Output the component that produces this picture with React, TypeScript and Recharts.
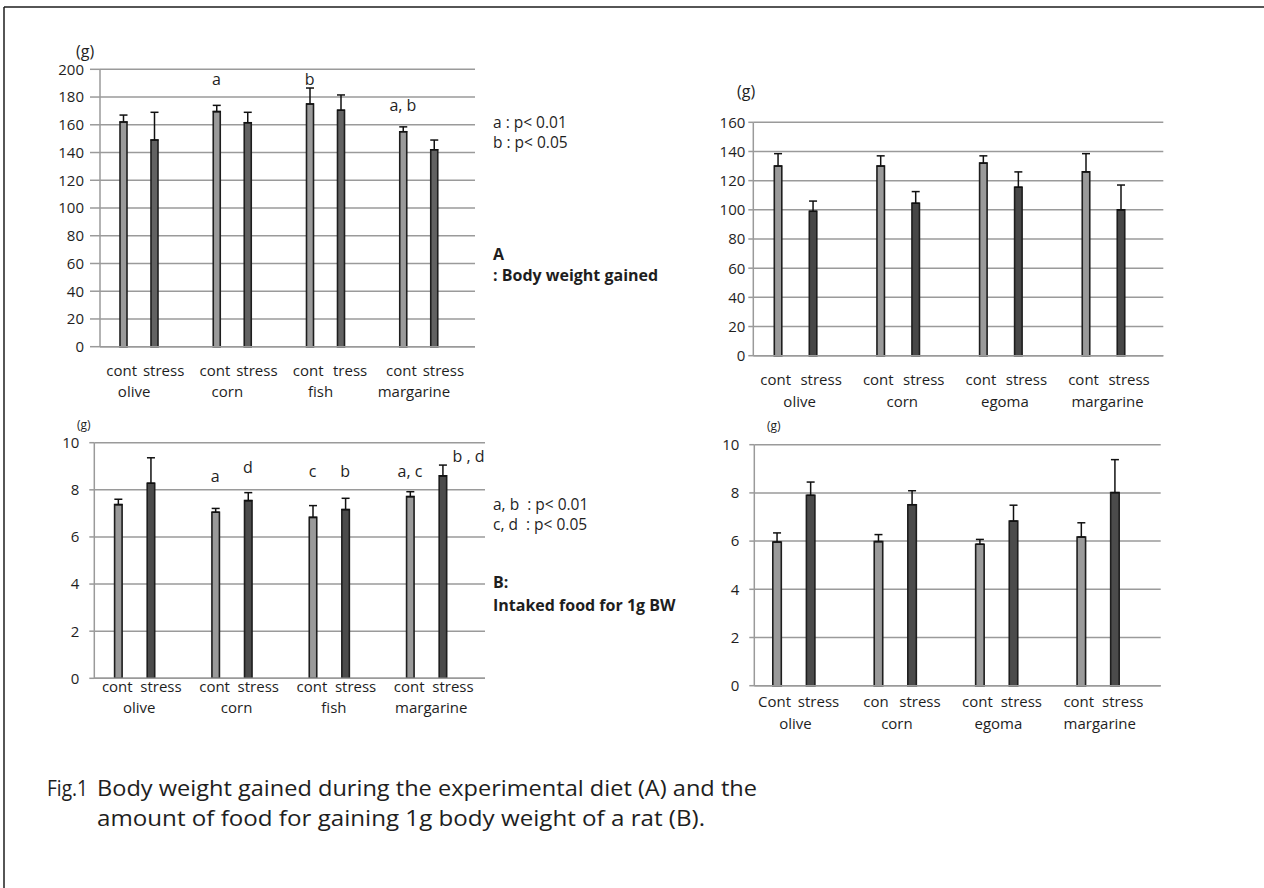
import React from "react";
import {
  ComposedChart,
  Bar,
  XAxis,
  YAxis,
  CartesianGrid,
  ErrorBar,
  ReferenceDot,
} from "recharts";

const FONT = "'Open Sans', 'Noto Sans', sans-serif";
const INK = "#1e1e1e";
const GRID = "#9a9a9a";

// A, left: body weight gained (g)
const groupsA1 = ["olive", "corn", "fish", "margarine"];
const subsA1 = [["cont", "stress"], ["cont", "stress"], ["cont", "tress"], ["cont", "stress"]];
const contA1 = [162, 169.5, 175, 155];
const contErrA1 = [5, 4.5, 11.5, 3.5];
const stressA1 = [149, 161.5, 170.5, 142];
const stressErrA1 = [20, 7.5, 11, 7];
const ticksA1 = [0, 20, 40, 60, 80, 100, 120, 140, 160, 180, 200];
const noteGroupA1 = ["corn", "fish", "margarine"];
const noteBarA1 = ["cont", "cont", "cont"];
const noteTextA1 = ["a", "b", "a, b"];
const noteAtA1 = [188.7, 188.7, 170];

// A, right
const groupsA2 = ["olive", "corn", "egoma", "margarine"];
const subsA2 = [["cont", "stress"], ["cont", "stress"], ["cont", "stress"], ["cont", "stress"]];
const contA2 = [130, 130, 132, 126];
const contErrA2 = [8.5, 7, 5, 12.5];
const stressA2 = [99, 104.5, 115.5, 100];
const stressErrA2 = [7, 8, 10.5, 17];
const ticksA2 = [0, 20, 40, 60, 80, 100, 120, 140, 160];

// B, left: intaked food for 1g BW (g)
const groupsB1 = ["olive", "corn", "fish", "margarine"];
const subsB1 = [["cont", "stress"], ["cont", "stress"], ["cont", "stress"], ["cont", "stress"]];
const contB1 = [7.37, 7.05, 6.83, 7.71];
const contErrB1 = [0.23, 0.16, 0.5, 0.21];
const stressB1 = [8.28, 7.54, 7.16, 8.59];
const stressErrB1 = [1.08, 0.34, 0.48, 0.46];
const ticksB = [0, 2, 4, 6, 8, 10];
const noteGroupB1 = ["corn", "corn", "fish", "fish", "margarine", "margarine"];
const noteBarB1 = ["cont", "stress", "cont", "stress", "cont", "stress"];
const noteTextB1 = ["a", "d", "c", "b", "a, c", "b , d"];
const noteAtB1 = [8.34, 8.7, 8.56, 8.56, 8.56, 9.19];

// B, right
const groupsB2 = ["olive", "corn", "egoma", "margarine"];
const subsB2 = [["Cont", "stress"], ["con", "stress"], ["cont", "stress"], ["cont", "stress"]];
const contB2 = [5.96, 5.98, 5.87, 6.17];
const contErrB2 = [0.38, 0.29, 0.2, 0.59];
const stressB2 = [7.9, 7.51, 6.83, 8.01];
const stressErrB2 = [0.55, 0.58, 0.66, 1.37];

type Panel = {
  groups: string[];
  subs: string[][];
  cont: number[];
  contErr: number[];
  stress: number[];
  stressErr: number[];
  ticks: number[];
  notes?: { group: string[]; bar: string[]; text: string[]; at: number[] };
  x0: number;
  x1: number;
  y0: number;
  y1: number;
  padL: number;
  padR: number;
  barSize: number;
  pitch: number;
  stressFill: string;
  tickSize: number;
  tickMargin: number;
  row1: number;
  row2: number;
  contDx: number;
  stressDx: number;
  nameDx: number;
};

const W = 1264;
const H = 888;
const XH = 60;
const YW = 60;

function BarPanel({ p }: { p: Panel }) {
  const rows = p.groups.map((g, i) => ({
    group: g,
    cont: p.cont[i],
    contErr: p.contErr[i],
    stress: p.stress[i],
    stressErr: p.stressErr[i],
  }));
  const half = p.pitch / 2;

  const Tick = (props: any) => {
    const i = p.groups.indexOf(props.payload.value);
    const sub = p.subs[i] || ["", ""];
    const st = { fontFamily: FONT, fontSize: 15, fill: INK };
    return (
      <g>
        <text x={props.x + p.contDx} y={p.row1} textAnchor="middle" style={st}>
          {sub[0]}
        </text>
        <text x={props.x + p.stressDx} y={p.row1} textAnchor="middle" style={st}>
          {sub[1]}
        </text>
        <text x={props.x + p.nameDx} y={p.row2} textAnchor="middle" style={st}>
          {props.payload.value}
        </text>
      </g>
    );
  };

  const notes = p.notes
    ? p.notes.text.map((t, i) => ({
        text: t,
        group: p.notes!.group[i],
        at: p.notes!.at[i],
        dx: (p.notes!.bar[i] === "cont" ? -half : half) + (t === "b , d" ? 26 : 0),
      }))
    : [];

  return (
    <div style={{ position: "absolute", left: 0, top: 0 }}>
      <ComposedChart
        width={W}
        height={H}
        data={rows}
        barGap={p.pitch - p.barSize}
        margin={{ left: p.x0 - YW, right: W - p.x1, top: p.y0, bottom: H - p.y1 - XH }}
      >
        <CartesianGrid vertical={false} stroke={GRID} strokeWidth={1.5} />
        <XAxis
          dataKey="group"
          height={XH}
          padding={{ left: p.padL, right: p.padR }}
          interval={0}
          tickLine={false}
          tickSize={0}
          axisLine={{ stroke: GRID, strokeWidth: 1.5 }}
          tick={<Tick />}
        />
        <YAxis
          width={YW}
          domain={[0, p.ticks[p.ticks.length - 1]]}
          ticks={p.ticks}
          interval={0}
          tickSize={p.tickSize}
          tickMargin={p.tickMargin}
          tickLine={{ stroke: GRID, strokeWidth: 1.5 }}
          axisLine={{ stroke: GRID, strokeWidth: 1.5 }}
          tick={{ fontFamily: FONT, fontSize: 15, fill: INK }}
        />
        <Bar
          dataKey="cont"
          barSize={p.barSize}
          fill="#9a9a9a"
          stroke={INK}
          strokeWidth={1.6}
          isAnimationActive={false}
        >
          <ErrorBar
            dataKey={(d: any) => [0, d.contErr]}
            direction="y"
            width={4}
            stroke="#111"
            strokeWidth={1.5}
          />
        </Bar>
        <Bar
          dataKey="stress"
          barSize={p.barSize}
          fill={p.stressFill}
          stroke={INK}
          strokeWidth={1.6}
          isAnimationActive={false}
        >
          <ErrorBar
            dataKey={(d: any) => [0, d.stressErr]}
            direction="y"
            width={4}
            stroke="#111"
            strokeWidth={1.5}
          />
        </Bar>
        {notes.map((n, i) => (
          <ReferenceDot
            key={i}
            x={n.group}
            y={n.at}
            r={0}
            shape={(s: any) => (
              <text
                x={s.cx + n.dx}
                y={s.cy}
                textAnchor="middle"
                style={{ fontFamily: FONT, fontSize: 16, fill: INK }}
              >
                {n.text}
              </text>
            )}
          />
        ))}
      </ComposedChart>
    </div>
  );
}

const panelA1: Panel = {
  groups: groupsA1, subs: subsA1, cont: contA1, contErr: contErrA1,
  stress: stressA1, stressErr: stressErrA1, ticks: ticksA1,
  notes: { group: noteGroupA1, bar: noteBarA1, text: noteTextA1, at: noteAtA1 },
  x0: 100, x1: 475, y0: 69.3, y1: 346.7, padL: -8, padR: 10,
  barSize: 7, pitch: 31, stressFill: "#626262",
  tickSize: 10, tickMargin: 6, row1: 376, row2: 397,
  contDx: -17, stressDx: 25, nameDx: -4.5,
};

const panelA2: Panel = {
  groups: groupsA2, subs: subsA2, cont: contA2, contErr: contErrA2,
  stress: stressA2, stressErr: stressErrA2, ticks: ticksA2,
  x0: 753.3, x1: 1163.3, y0: 122.3, y1: 355.7, padL: -9, padR: 8.4,
  barSize: 7.5, pitch: 35, stressFill: "#474747",
  tickSize: 5, tickMargin: 3, row1: 385, row2: 407,
  contDx: -20, stressDx: 25.5, nameDx: 4,
};

const panelB1: Panel = {
  groups: groupsB1, subs: subsB1, cont: contB1, contErr: contErrB1,
  stress: stressB1, stressErr: stressErrB1, ticks: ticksB,
  notes: { group: noteGroupB1, bar: noteBarB1, text: noteTextB1, at: noteAtB1 },
  x0: 94.3, x1: 485, y0: 442.7, y1: 678.3, padL: -8.7, padR: 10.1,
  barSize: 7.5, pitch: 32.6, stressFill: "#4b4b4b",
  tickSize: 5, tickMargin: 10, row1: 692, row2: 713,
  contDx: -17, stressDx: 26.7, nameDx: 5,
};

const panelB2: Panel = {
  groups: groupsB2, subs: subsB2, cont: contB2, contErr: contErrB2,
  stress: stressB2, stressErr: stressErrB2, ticks: ticksB,
  x0: 754.3, x1: 1160.7, y0: 444.7, y1: 685.7, padL: -11.5, padR: 12.2,
  barSize: 8.5, pitch: 33.6, stressFill: "#4b4b4b",
  tickSize: 5, tickMargin: 10, row1: 707, row2: 729,
  contDx: -19, stressDx: 25, nameDx: 2,
};

export default function App() {
  const t = { fontFamily: FONT, fill: INK };
  return (
    <div style={{ position: "absolute", left: 0, top: 0, width: W, height: H, background: "#fff" }}>
      <svg width={W} height={H} style={{ position: "absolute", left: 0, top: 0 }}>
        <line x1={4} y1={7} x2={W} y2={7} stroke={INK} strokeWidth={1.5} />
        <line x1={4} y1={7} x2={4} y2={H} stroke={INK} strokeWidth={1.5} />
        <text x={76} y={57} style={{ ...t, fontSize: 16 }}>(g)</text>
        <text x={737} y={97} style={{ ...t, fontSize: 16 }}>(g)</text>
        <text x={77} y={429} style={{ ...t, fontSize: 12 }}>(g)</text>
        <text x={767} y={430} style={{ ...t, fontSize: 12 }}>(g)</text>

        <text x={493} y={128} style={{ ...t, fontSize: 15.5 }}>a : p&lt; 0.01</text>
        <text x={493} y={148} style={{ ...t, fontSize: 15.5 }}>b : p&lt; 0.05</text>
        <text x={493} y={260} style={{ ...t, fontSize: 16, fontWeight: 700 }}>A</text>
        <text x={493} y={281} style={{ ...t, fontSize: 16, fontWeight: 700 }}>: Body weight gained</text>

        <text x={493} y={510} style={{ ...t, fontSize: 15.5 }} xmlSpace="preserve">a, b  : p&lt; 0.01</text>
        <text x={493} y={530} style={{ ...t, fontSize: 15.5 }} xmlSpace="preserve">c, d  : p&lt; 0.05</text>
        <text x={493} y={588} style={{ ...t, fontSize: 16, fontWeight: 700 }}>B:</text>
        <text x={493} y={611} style={{ ...t, fontSize: 16, fontWeight: 700 }}>Intaked food for 1g BW</text>

        <text x={47} y={796} style={{ ...t, fontSize: 22 }} textLength={41} lengthAdjust="spacingAndGlyphs">Fig.1</text>
        <text x={97} y={796} style={{ ...t, fontSize: 22 }} textLength={660} lengthAdjust="spacingAndGlyphs">
          Body weight gained during the experimental diet (A) and the
        </text>
        <text x={97} y={826} style={{ ...t, fontSize: 22 }} textLength={608} lengthAdjust="spacingAndGlyphs">
          amount of food for gaining 1g body weight of a rat (B).
        </text>
      </svg>
      <BarPanel p={panelA1} />
      <BarPanel p={panelA2} />
      <BarPanel p={panelB1} />
      <BarPanel p={panelB2} />
    </div>
  );
}
